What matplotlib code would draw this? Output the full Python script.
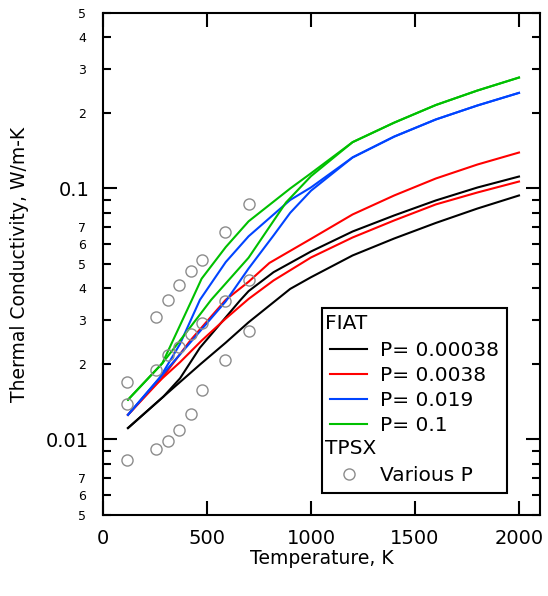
import numpy as np
import matplotlib
matplotlib.use("Agg")
from matplotlib import pyplot as plt
from matplotlib import ticker
import matplotlib.text as mtext
from matplotlib.legend_handler import HandlerBase
from matplotlib.lines import Line2D

# FIAT curves (two branches per pressure)
black_hi_T = [120, 290, 370, 466, 659, 700, 820, 1000, 1200, 1400, 1600, 1800, 2000]
black_hi_k = [0.0111, 0.0148, 0.0175, 0.0232, 0.0358, 0.0390, 0.0464, 0.0561, 0.0674, 0.0781, 0.0896, 0.1009, 0.1116]
black_lo_T = [120, 290, 470, 590, 700, 900, 1000, 1200, 1400, 1600, 1800, 2000]
black_lo_k = [0.0111, 0.0148, 0.0200, 0.0243, 0.0293, 0.0398, 0.0443, 0.0541, 0.0632, 0.0729, 0.0832, 0.0938]

red_hi_T = [120, 275, 420, 590, 700, 800, 1000, 1200, 1400, 1600, 1800, 2000]
red_hi_k = [0.01253, 0.0172, 0.0248, 0.0360, 0.0425, 0.0505, 0.0630, 0.0788, 0.0938, 0.1096, 0.1246, 0.1391]
red_lo_T = [120, 240, 370, 475, 590, 700, 820, 1000, 1200, 1400, 1600, 1800, 2000]
red_lo_k = [0.01253, 0.0162, 0.0203, 0.0248, 0.0303, 0.0363, 0.0430, 0.0531, 0.0638, 0.0746, 0.0864, 0.0964, 0.1066]

blue_hi_T = [120, 275, 370, 466, 590, 700, 900, 1000, 1200, 1400, 1600, 1800, 2000]
blue_hi_k = [0.01253, 0.0177, 0.0240, 0.0360, 0.0509, 0.0645, 0.0900, 0.1010, 0.1330, 0.1610, 0.1884, 0.2142, 0.2405]
blue_lo_T = [120, 275, 400, 590, 700, 820, 900, 1000, 1200, 1400, 1600, 1800, 2000]
blue_lo_k = [0.01253, 0.0177, 0.0233, 0.0355, 0.0480, 0.0650, 0.0800, 0.0980, 0.1330, 0.1610, 0.1884, 0.2142, 0.2405]

green_hi_T = [120, 285, 426, 474, 590, 700, 900, 1000, 1200, 1400, 1600, 1800, 2000]
green_hi_k = [0.01439, 0.0201, 0.0358, 0.0437, 0.0584, 0.0740, 0.1000, 0.1150, 0.1530, 0.1830, 0.2151, 0.2457, 0.2768]
green_lo_T = [120, 285, 402, 520, 700, 880, 1000, 1200, 1400, 1600, 1800, 2000]
green_lo_k = [0.01439, 0.0201, 0.0268, 0.0360, 0.0530, 0.0880, 0.1120, 0.1530, 0.1830, 0.2151, 0.2457, 0.2768]

# TPSX points
tpsx_T = [116.5, 255.4, 310.9, 366.5, 422.0, 477.6, 588.7, 699.8]
tpsx_hi = [0.0169, 0.0307, 0.0360, 0.0413, 0.0468, 0.0520, 0.0670, 0.0864]
tpsx_mid = [0.01378, 0.01895, 0.0216, 0.0233, 0.0262, 0.0291, 0.0356, 0.0433]
tpsx_lo = [0.00825, 0.00919, 0.0099, 0.01093, 0.01265, 0.01567, 0.0208, 0.0270]

labels = ["P= 0.00038", "P= 0.0038", "P= 0.019", "P= 0.1"]
colores = ["#000000", "#ff0000", "#0044ff", "#00c000"]


class Header:
    def __init__(self, texto):
        self.texto = texto


class HeaderHandler(HandlerBase):
    def create_artists(self, legend, orig_handle, xdescent, ydescent,
                       width, height, fontsize, trans):
        t = mtext.Text(-xdescent - 4, -ydescent + height / 2, orig_handle.texto,
                       fontproperties=legend.prop, va="center", ha="left",
                       transform=trans)
        return [t]


plt.rcParams['font.family'] = ['DejaVu Sans']
fig = plt.figure(figsize=(5.48, 5.96), dpi=100)
ax = fig.add_axes([0.188, 0.136, 0.797, 0.842])

lw = 1.5
series = [
    (black_hi_T, black_hi_k, black_lo_T, black_lo_k),
    (red_hi_T, red_hi_k, red_lo_T, red_lo_k),
    (blue_hi_T, blue_hi_k, blue_lo_T, blue_lo_k),
    (green_hi_T, green_hi_k, green_lo_T, green_lo_k),
]
handles = []
for (th, kh, tl, kl), c in zip(series, colores):
    h, = ax.plot(th, kh, color=c, lw=lw)
    ax.plot(tl, kl, color=c, lw=lw)
    handles.append(h)

gris = "#8c8c8c"
for serie in (tpsx_hi, tpsx_mid, tpsx_lo):
    ax.plot(tpsx_T, serie, ls="none", marker="o", ms=8, mfc="none",
            mec=gris, mew=1.0)
circ = Line2D([], [], ls="none", marker="o", ms=8, mfc="none", mec=gris, mew=1.0)

ax.set_yscale("log")
ax.set_xlim(0, 2100)
ax.set_ylim(0.005, 0.5)

ax.xaxis.set_major_locator(ticker.FixedLocator([0, 500, 1000, 1500, 2000]))
ax.xaxis.set_minor_locator(ticker.NullLocator())

ax.yaxis.set_major_locator(ticker.FixedLocator([0.01, 0.1]))
ax.yaxis.set_major_formatter(ticker.FixedFormatter(["0.01", "0.1"]))
menores = [m * d for d in (0.001, 0.01, 0.1) for m in range(2, 10)]
menores = [v for v in menores if 0.0049 < v < 0.51]
ax.yaxis.set_minor_locator(ticker.FixedLocator(menores))


def fmt_menor(v, pos):
    m = int(round(v / 10 ** np.floor(np.log10(v) + 1e-9)))
    return str(m) if m <= 7 else ""


ax.yaxis.set_minor_formatter(ticker.FuncFormatter(fmt_menor))

for s in ax.spines.values():
    s.set_linewidth(1.5)
ax.tick_params(which="both", direction="in", top=True, right=True, width=1.5)
ax.tick_params(which="major", length=10, labelsize=14, pad=10)
ax.tick_params(which="minor", length=6, labelsize=9, pad=12)
ax.tick_params(axis="x", which="major", pad=10)

ax.set_xlabel("Temperature, K", fontsize=13.5, labelpad=1)
ax.set_ylabel("Thermal Conductivity, W/m-K", fontsize=13.5, labelpad=12)

leg_handles = [Header("FIAT")] + handles + [Header("TPSX"), circ]
leg_labels = [""] + labels + ["", "Various P"]
leg = ax.legend(leg_handles, leg_labels, handler_map={Header: HeaderHandler()},
                loc="lower right", bbox_to_anchor=(0.924, 0.044), borderaxespad=0,
                fontsize=14.5, frameon=True, fancybox=False, framealpha=1,
                edgecolor="black", handlelength=1.85, handletextpad=0.6,
                labelspacing=0.3, borderpad=0.4)
leg.get_frame().set_linewidth(1.5)

plt.savefig("out.png", dpi=100)
